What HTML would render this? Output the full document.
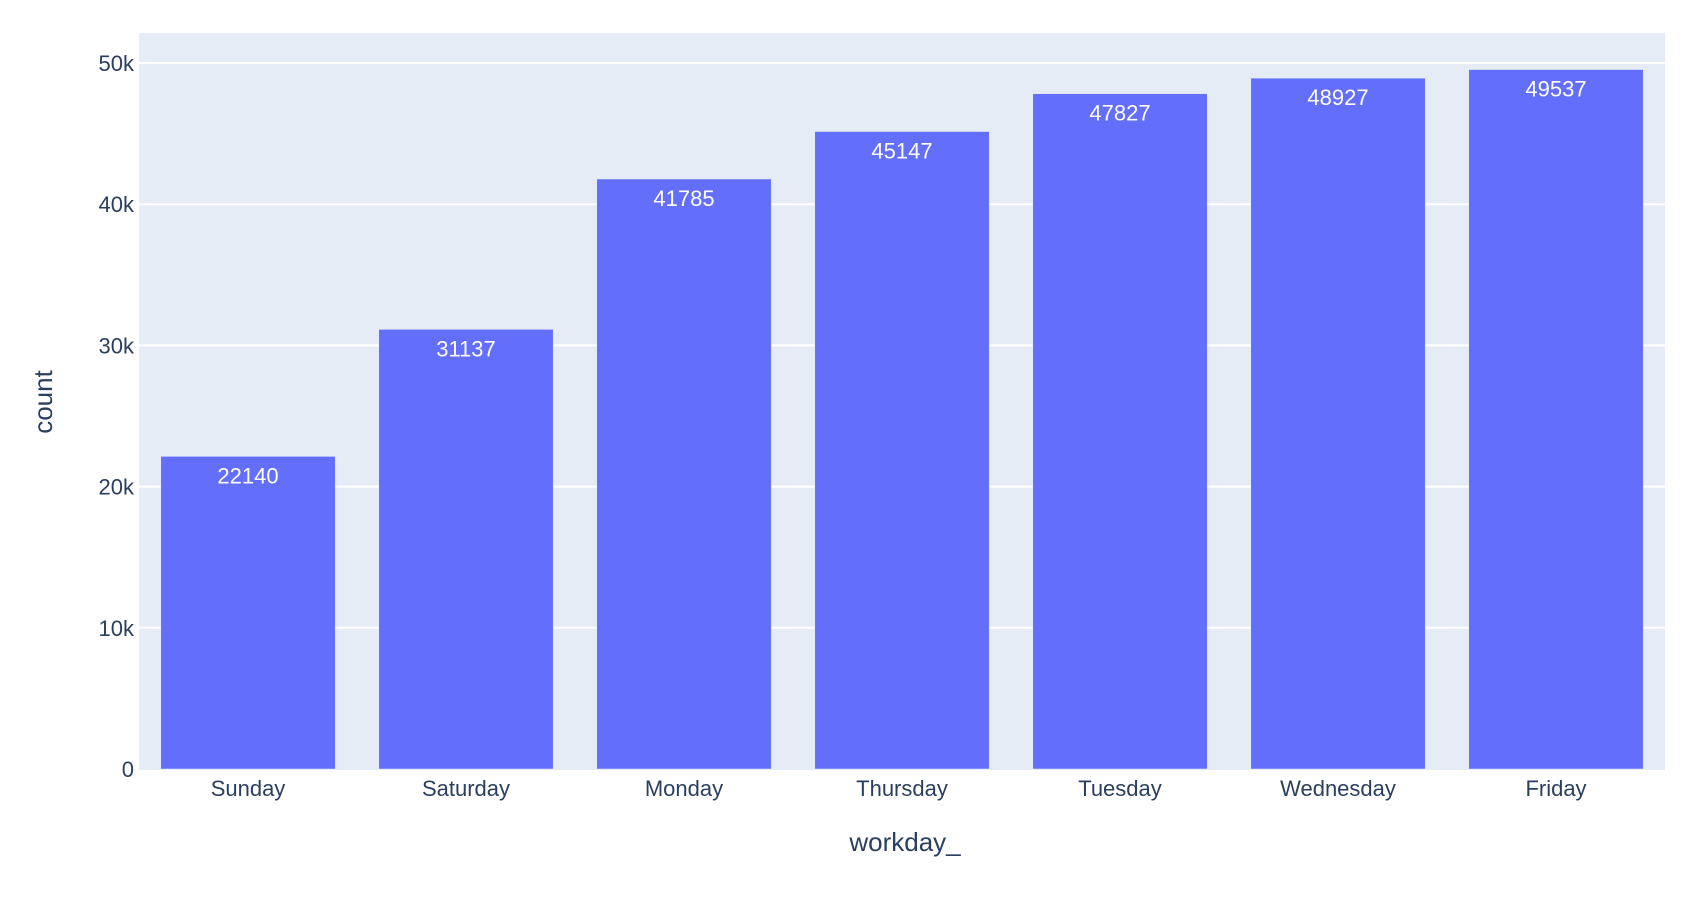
<!DOCTYPE html>
<html><head><meta charset="utf-8"><style>
html,body{margin:0;padding:0;background:#fff;}
svg{display:block;font-family:"Liberation Sans",Arial,sans-serif;}
</style></head><body>
<svg id="chart" width="1688" height="914">
<rect x="139" y="33" width="1526" height="737" fill="#e5ecf6"/>
<g id="grid"></g><g id="bars"></g><g id="xt"></g><g id="yt"></g>
<text x="905" y="851" text-anchor="middle" font-size="26" fill="#2a3f5f">workday_</text>
<text transform="translate(52,402) rotate(-90)" text-anchor="middle" font-size="26" fill="#2a3f5f">count</text>
</svg>
<script>
const categories=["Sunday","Saturday","Monday","Thursday","Tuesday","Wednesday","Friday"];
const counts=[22140,31137,41785,45147,47827,48927,49537];
const yTicks=[0,10000,20000,30000,40000,50000];
const yTickLabels=["0","10k","20k","30k","40k","50k"];
const NS="http://www.w3.org/2000/svg";
const L=139,R=1665,Y0=769,PX_PER=(769-63)/50000;
const bw=(R-L)/categories.length;
function x(i){return L+bw*(i+0.5);}
function y(v){return Y0-v*PX_PER;}
function mk(t,a,p){const e=document.createElementNS(NS,t);for(const k in a)e.setAttribute(k,a[k]);p.appendChild(e);return e;}
const grid=document.getElementById('grid'),yt=document.getElementById('yt'),bars=document.getElementById('bars'),xt=document.getElementById('xt');
yTicks.forEach((v,i)=>{
 if(v>0){const g=mk('line',{x1:L,x2:R,y1:y(v),y2:y(v),stroke:'#fff','stroke-width':2},grid);
 
 }
 const t=mk('text',{x:134,y:y(v)+8,'text-anchor':'end','font-size':22,fill:'#2a3f5f'},yt);t.textContent=yTickLabels[i];
 
 
});
categories.forEach((c,i)=>{
 const w=bw*0.8;
 const b=mk('rect',{x:x(i)-w/2,y:y(counts[i]),width:w,height:Y0-y(counts[i]),fill:'#636efa',stroke:'#e5ecf6','stroke-width':0.5},bars);
 
 
 const l=mk('text',{x:x(i),y:y(counts[i])+27,'text-anchor':'middle','font-size':22,fill:'#fff'},bars);l.textContent=counts[i];
 
 
 const t=mk('text',{x:x(i),y:796,'text-anchor':'middle','font-size':22,fill:'#2a3f5f'},xt);t.textContent=c;
 
 
});
</script>
</body></html>
